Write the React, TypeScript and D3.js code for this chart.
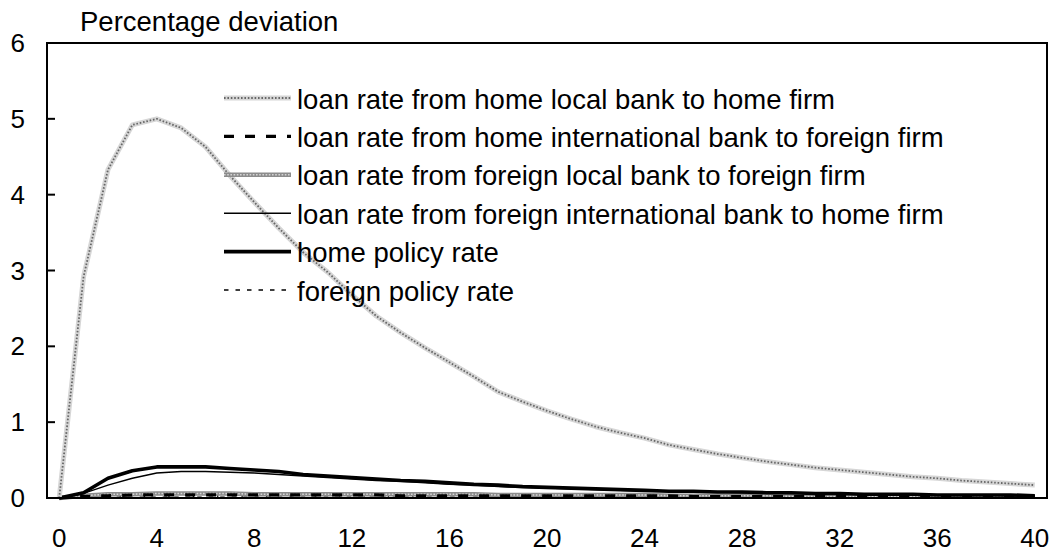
import * as d3 from 'd3';
import React, { useRef, useEffect } from 'react';

// periods 0..40 on the category axis
const periods = d3.range(0, 41);
const xTickLabels = [0, 4, 8, 12, 16, 20, 24, 28, 32, 36, 40];
const yTicks = [0, 1, 2, 3, 4, 5, 6];

const homeLocal = [0, 2.92, 4.33, 4.92, 5.0, 4.88, 4.63, 4.25, 3.9, 3.56, 3.24, 2.98, 2.68, 2.4, 2.18, 1.98, 1.79, 1.6, 1.4, 1.27, 1.15, 1.04, 0.94, 0.86, 0.79, 0.7, 0.64, 0.58, 0.53, 0.48, 0.44, 0.4, 0.37, 0.34, 0.31, 0.28, 0.26, 0.23, 0.21, 0.19, 0.17];
const homeIntl = [0, 0.02, 0.03, 0.04, 0.04, 0.04, 0.04, 0.04, 0.04, 0.04, 0.04, 0.04, 0.04, 0.04, 0.03, 0.03, 0.03, 0.03, 0.03, 0.03, 0.03, 0.03, 0.03, 0.03, 0.03, 0.03, 0.02, 0.02, 0.02, 0.02, 0.02, 0.02, 0.02, 0.02, 0.02, 0.02, 0.02, 0.02, 0.02, 0.02, 0.02];
const foreignLocal = [0, 0.03, 0.05, 0.05, 0.06, 0.06, 0.06, 0.06, 0.05, 0.05, 0.05, 0.05, 0.05, 0.05, 0.05, 0.05, 0.05, 0.05, 0.04, 0.04, 0.04, 0.04, 0.04, 0.04, 0.04, 0.03, 0.03, 0.03, 0.03, 0.03, 0.02, 0.02, 0.02, 0.02, 0.02, 0.02, 0.02, 0.02, 0.02, 0.02, 0.02];
const foreignIntl = [0, 0.06, 0.17, 0.26, 0.33, 0.35, 0.35, 0.34, 0.33, 0.31, 0.29, 0.27, 0.25, 0.23, 0.22, 0.2, 0.18, 0.17, 0.15, 0.14, 0.13, 0.12, 0.11, 0.1, 0.09, 0.09, 0.08, 0.08, 0.07, 0.07, 0.06, 0.06, 0.05, 0.05, 0.05, 0.04, 0.04, 0.04, 0.04, 0.03, 0.03];
const homePolicy = [0, 0.07, 0.26, 0.36, 0.41, 0.41, 0.41, 0.39, 0.37, 0.35, 0.31, 0.29, 0.27, 0.25, 0.23, 0.22, 0.2, 0.18, 0.17, 0.15, 0.14, 0.13, 0.12, 0.11, 0.1, 0.09, 0.09, 0.08, 0.08, 0.07, 0.07, 0.06, 0.06, 0.05, 0.05, 0.05, 0.04, 0.04, 0.04, 0.04, 0.03];
const foreignPolicy = [0, 0.01, 0.01, 0.01, 0.01, 0.01, 0.01, 0.01, 0.01, 0.01, 0.01, 0.01, 0.01, 0.01, 0.01, 0.01, 0.01, 0.01, 0.01, 0.01, 0.01, 0.01, 0.01, 0.01, 0.01, 0.01, 0.01, 0.01, 0.01, 0.01, 0.01, 0.01, 0.01, 0.01, 0.01, 0.01, 0.01, 0.01, 0.01, 0.01, 0.01];

const seriesNames = [
    'loan rate from home local bank to home firm',
    'loan rate from home international bank to foreign firm',
    'loan rate from foreign local bank to foreign firm',
    'loan rate from foreign international bank to home firm',
    'home policy rate',
    'foreign policy rate',
];

// each style is a list of stroke layers drawn on top of each other
const styles = [
    [{ stroke: '#d6d6d6', width: 5 }, { stroke: '#666', width: 1.8, dash: '1.6,1.8' }],
    [{ stroke: '#000', width: 3.2, dash: '10,11' }],
    [{ stroke: '#8c8c8c', width: 4.5 }, { stroke: '#d4d4d4', width: 1.6, dash: '1.6,1.6' }],
    [{ stroke: '#000', width: 1.4 }],
    [{ stroke: '#000', width: 3.6 }],
    [{ stroke: '#000', width: 1.3, dash: '4.5,7' }],
];

function Chart() {
    const ref = useRef(null);

    useEffect(() => {
        draw();
    }, []);

    const draw = () => {
        const width = 1057;
        const height = 554;
        const plot = { left: 47, right: 1047, top: 43, bottom: 498 };

        const svg = d3.select(ref.current)
            .attr('width', width)
            .attr('height', height)
            .style('font-family', '"Liberation Sans", Arial, sans-serif');
        svg.selectAll('*').remove();

        const x = d3.scaleBand()
            .domain(periods.map(String))
            .range([plot.left, plot.right]);
        const cx = (i) => x(String(i)) + x.bandwidth() / 2;

        const y = d3.scaleLinear()
            .domain([0, 6])
            .range([plot.bottom, plot.top]);

        // y title
        svg.append('text')
            .attr('x', 80)
            .attr('y', 31)
            .style('font-size', '27.5px')
            .text('Percentage deviation');

        // y ticks + labels
        svg.append('g')
            .selectAll('line')
            .data(yTicks)
            .enter()
            .append('line')
            .attr('x1', plot.left)
            .attr('x2', plot.left + 8)
            .attr('y1', d => y(d))
            .attr('y2', d => y(d))
            .attr('stroke', '#000')
            .attr('stroke-width', 2);

        svg.append('g')
            .selectAll('text')
            .data(yTicks)
            .enter()
            .append('text')
            .attr('x', 25)
            .attr('y', d => y(d))
            .attr('text-anchor', 'end')
            .attr('dominant-baseline', 'central')
            .style('font-size', '26px')
            .text(d => d);

        // x tick marks at category boundaries, pointing up
        const bounds = d3.range(1, periods.length);
        svg.append('g')
            .selectAll('line')
            .data(bounds)
            .enter()
            .append('line')
            .attr('x1', d => plot.left + d * x.step())
            .attr('x2', d => plot.left + d * x.step())
            .attr('y1', plot.bottom)
            .attr('y2', plot.bottom - 4)
            .attr('stroke', '#000')
            .attr('stroke-width', 1.2);

        svg.append('g')
            .selectAll('text')
            .data(xTickLabels)
            .enter()
            .append('text')
            .attr('x', d => cx(d))
            .attr('y', 538)
            .attr('text-anchor', 'middle')
            .attr('dominant-baseline', 'central')
            .style('font-size', '26px')
            .text(d => d);

        // series
        const allSeries = [homeLocal, homeIntl, foreignLocal, foreignIntl, homePolicy, foreignPolicy];
        const line = d3.line()
            .x((d, i) => cx(i))
            .y(d => y(d));

        const drawOrder = [5, 2, 1, 3, 4, 0];
        drawOrder.forEach(k => {
            styles[k].forEach(s => {
                svg.append('path')
                    .datum(allSeries[k])
                    .attr('d', line)
                    .attr('fill', 'none')
                    .attr('stroke', s.stroke)
                    .attr('stroke-width', s.width)
                    .attr('stroke-dasharray', s.dash || null)
                    .attr('stroke-linejoin', 'round');
            });
        });

        // plot frame
        svg.append('rect')
            .attr('x', plot.left)
            .attr('y', plot.top)
            .attr('width', plot.right - plot.left)
            .attr('height', plot.bottom - plot.top)
            .attr('fill', 'none')
            .attr('stroke', '#000')
            .attr('stroke-width', 2);

        // legend
        const legend = svg.append('g');
        seriesNames.forEach((name, k) => {
            const ly = 98 + k * 38.4;
            styles[k].forEach(s => {
                legend.append('line')
                    .attr('x1', 224)
                    .attr('x2', 291)
                    .attr('y1', ly)
                    .attr('y2', ly)
                    .attr('stroke', s.stroke)
                    .attr('stroke-width', s.width)
                    .attr('stroke-dasharray', s.dash || null);
            });
            legend.append('text')
                .attr('x', 297)
                .attr('y', ly + 1)
                .attr('dominant-baseline', 'central')
                .style('font-size', '27.5px')
                .text(name);
        });
    };

    return (
        <svg ref={ref} style={{ position: 'absolute', left: 0, top: 0, background: '#fff' }}></svg>
    );
}

export default function App() {
    return <Chart />;
}
